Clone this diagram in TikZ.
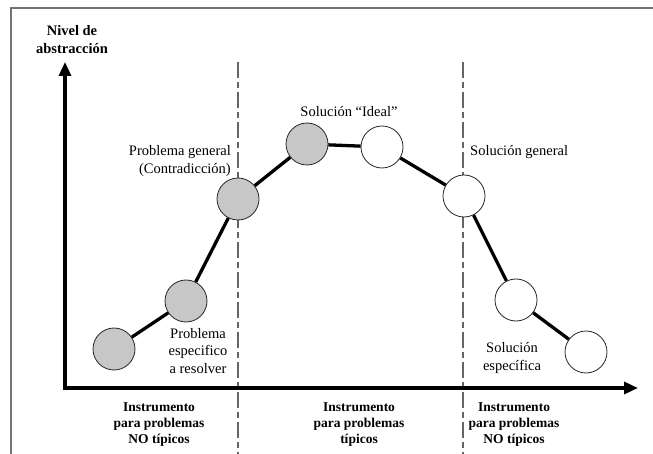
\documentclass[tikz,border=0pt]{standalone}
\usepackage{fontspec}
\setmainfont{Liberation Serif}
\usetikzlibrary{arrows.meta}
\begin{document}
\begin{tikzpicture}[x=1pt,y=-1pt,
  stage/.style={circle, draw=black!85, line width=0.8pt, minimum size=42pt, inner sep=0pt},
  prob/.style={stage, fill=black!22},
  sol/.style={stage, fill=white},
  link/.style={line width=3.3pt, black},
  axis/.style={line width=3.3pt, black},
  divider/.style={draw=black!60, line width=1.2pt, dash pattern=on 16pt off 4pt on 6pt off 4pt},
  lbl/.style={font=\fontsize{14.5}{17.5}\selectfont, inner sep=0pt},
  head/.style={font=\bfseries\fontsize{13.5}{16}\selectfont, inner sep=0pt, align=center},
  title/.style={font=\bfseries\fontsize{14.5}{18}\selectfont, inner sep=0pt, align=center},
]
\useasboundingbox (0,0) rectangle (653,454);

% frame
\draw[black!55, line width=1.3pt] (11,454) -- (11,8) -- (653,8);

% dividers between the three zones
\coordinate (d1top) at (238,62);
\coordinate (d1bot) at (238,454);
\coordinate (d2top) at (463,62);
\coordinate (d2bot) at (463,454);
\draw[divider] (d1top) -- (d1bot);
\draw[divider] (d2top) -- (d2bot);

% axes
\coordinate (ytip) at (65,62);
\coordinate (origin) at (65,388);
\coordinate (xtip) at (638,388);
\draw[axis, {Triangle[length=14pt,width=12pt]}-{Triangle[length=14pt,width=12pt]}, line join=miter]
  (ytip) -- (origin) -- (xtip);

% stages
\node[prob] (p1) at (114,349) {};
\node[prob] (p2) at (186,301) {};
\node[prob] (p3) at (238,199) {};
\node[prob] (p4) at (307,144) {};
\node[sol]  (s1) at (382,147) {};
\node[sol]  (s2) at (464,196) {};
\node[sol]  (s3) at (516,300) {};
\node[sol]  (s4) at (586,352) {};

\draw[link] (p1) -- (p2);
\draw[link] (p2) -- (p3);
\draw[link] (p3) -- (p4);
\draw[link] (p4) -- (s1);
\draw[link] (s1) -- (s2);
\draw[link] (s2) -- (s3);
\draw[link] (s3) -- (s4);

% labels
\node[title] (ttl) at (72,40) {Nivel de\\abstracción};
\node[lbl, align=right, anchor=east] (lpg) at (231,161) {Problema general\\(Contradicción)};
\node[lbl, align=center] (lpe) at (198,351) {Problema\\especifico\\a resolver};
\node[lbl] (lsi) at (349,112) {Solución “Ideal”};
\node[lbl, anchor=west] (lsg) at (470,152) {Solución general};
\node[lbl, align=center] (lse) at (512,358) {Solución\\específica};

\node[head] (h1) at (159,425) {Instrumento\\para problemas\\NO típicos};
\node[head] (h2) at (359,425) {Instrumento\\para problemas\\típicos};
\node[head] (h3) at (514,425) {Instrumento\\para problemas\\NO típicos};
\end{tikzpicture}
\end{document}
